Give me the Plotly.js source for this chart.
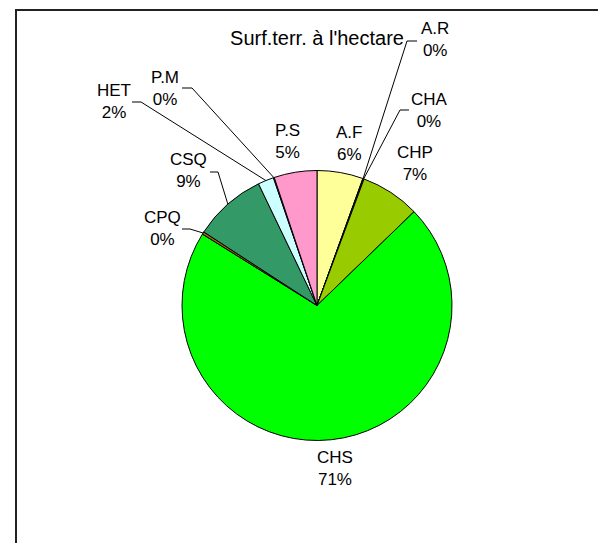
<!DOCTYPE html>
<html>
<head>
<meta charset="utf-8">
<script src="https://cdn.plot.ly/plotly-3.0.1.min.js"></script>
<style>html,body{margin:0;padding:0;background:#fff;}#chart{width:598px;height:543px;}</style>
</head>
<body>
<div id="chart"></div>
<script>
// ---- data ----
const labels = ['A.F','A.R','CHA','CHP','CHS','CPQ','CSQ','HET','P.M','P.S'];
const values = [5.52, 0.05, 0.1, 7.1, 71.1, 0.3, 8.7, 1.9, 0.1, 5.13];
const titleText = "Surf.terr. à l'hectare";

// ---- styling / layout ----
const colors = ['#FFFF99','#FF9900','#FFCC00','#99CC00','#00FF00','#996600','#339966','#CCFFFF','#CC99FF','#FF99CC'];
const W = 598, H = 543;
const cx = 317, cy = 305.5, R = 135;   // pie placement in px
const labelPos = {   // label block centres (px)
  'A.F':[349,143], 'A.R':[435,39], 'CHA':[429,110], 'CHP':[415,163], 'CHS':[335,468],
  'CPQ':[162,229], 'CSQ':[188,171], 'HET':[114,102], 'P.M':[165,88], 'P.S':[287,141]
};
const leaderStart = { // horizontal stub [x1,x2,y] then diagonal to slice
  'A.R':[417,407,41], 'CHA':[409,400,110], 'CPQ':[182,190,229],
  'CSQ':[210,218,172], 'HET':[132,141,102], 'P.M':[182,192,88]
};
const FONT = 'Liberation Sans, Arial, sans-serif';

const px = x => x / W;
const py = y => 1 - y / H;

const total = values.reduce((a,b)=>a+b,0);
const annotations = [];
const shapes = [];
let cum = 0;
labels.forEach((lab,i)=>{
  const frac = values[i]/total;
  const mid = (cum + frac/2) * 2*Math.PI;   // clockwise from 12 o'clock
  cum += frac;
  const ex = cx + R*Math.sin(mid), ey = cy - R*Math.cos(mid);
  const p = labelPos[lab];
  annotations.push({
    xref:'paper', yref:'paper', x:px(p[0]), y:py(p[1]), xanchor:'center', yanchor:'middle',
    text: lab + '<br>' + Math.round(frac*100) + '%', showarrow:false,
    font:{family:FONT, size:17, color:'#000'}, align:'center'
  });
  const L = leaderStart[lab];
  if (L) {
    shapes.push({type:'path', xref:'paper', yref:'paper',
      path:`M ${px(L[0])} ${py(L[2])} L ${px(L[1])} ${py(L[2])} L ${px(ex)} ${py(ey)}`,
      line:{color:'#000', width:1}});
  }
});
// frame (top & left edges)
shapes.push({type:'line', xref:'paper', yref:'paper', x0:px(15), x1:1, y0:py(10), y1:py(10), line:{color:'#222', width:2}});
shapes.push({type:'line', xref:'paper', yref:'paper', x0:px(16), x1:px(16), y0:py(10), y1:0, line:{color:'#222', width:2}});

const trace = {
  type:'pie', labels:labels, values:values, sort:false, direction:'clockwise', rotation:0,
  marker:{colors:colors, line:{color:'#000', width:1}},
  textinfo:'none', hoverinfo:'label+percent',
  domain:{x:[px(cx-R), px(cx+R)], y:[py(cy+R), py(cy-R)]},
  showlegend:false
};

const layout = {
  width:W, height:H, margin:{l:0,r:0,t:0,b:0},
  paper_bgcolor:'#fff', plot_bgcolor:'#fff',
  title:{text:titleText, x:px(317), xanchor:'center', y:py(38), yanchor:'middle',
         font:{family:FONT, size:20, color:'#000'}},
  annotations:annotations, shapes:shapes, showlegend:false
};
Plotly.newPlot('chart',[trace],layout,{staticPlot:true});
</script>
</body>
</html>
